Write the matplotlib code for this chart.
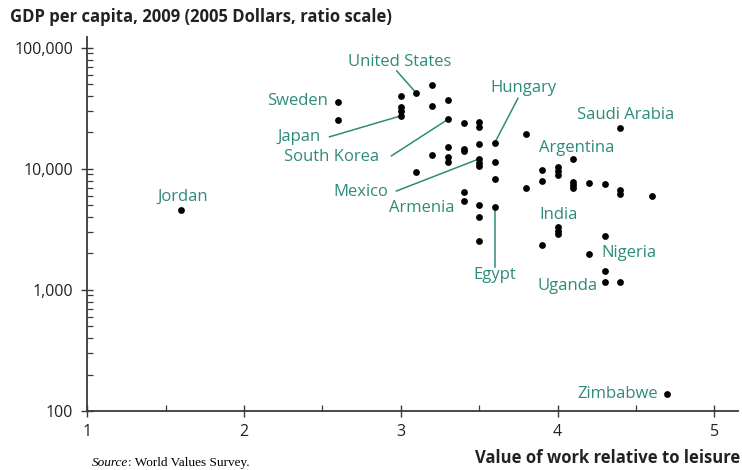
#!/usr/bin/env python

# Import plotting tools:
import matplotlib
matplotlib.use("Agg")
import matplotlib.pyplot as plt
from matplotlib.ticker import FixedLocator, LogLocator, NullFormatter

# Data: value of work relative to leisure vs GDP per capita (2005 dollars)
work_value = [1.6, 2.6, 2.6, 3.0, 3.0, 3.0, 3.0, 3.1, 3.1, 3.2, 3.2, 3.2,
              3.3, 3.3, 3.3, 3.3, 3.3, 3.4, 3.4, 3.4, 3.4, 3.4, 3.5, 3.5,
              3.5, 3.5, 3.5, 3.5, 3.5, 3.5, 3.5, 3.6, 3.6, 3.6, 3.6, 3.8,
              3.8, 3.9, 3.9, 3.9, 4.0, 4.0, 4.0, 4.0, 4.0, 4.0, 4.1, 4.1,
              4.1, 4.1, 4.2, 4.2, 4.3, 4.3, 4.3, 4.3, 4.4, 4.4, 4.4, 4.4,
              4.6, 4.7]
gdp = [4600, 36000, 25300, 40200, 32600, 30200, 27400, 42100, 9500, 49300, 33000, 13000,
       36700, 25600, 15100, 12600, 11400, 24000, 14700, 14000, 6440, 5410, 24500, 22200,
       16000, 12100, 11200, 10500, 4990, 3990, 2530, 16500, 11400, 8300, 4830, 19500,
       6950, 9800, 7940, 2330, 10400, 9550, 8850, 3300, 3060, 2870, 12000, 7790,
       7310, 7000, 7700, 1990, 7550, 2780, 1420, 1160, 21600, 6650, 6170, 1160,
       5930, 137]

# Country labels: name, label position (x, y), index of the dot a leader line points to (None = no line)
label_names = ["United States", "Sweden", "Japan", "South Korea", "Mexico", "Armenia", "Egypt",
               "Hungary", "Argentina", "Saudi Arabia", "India", "Nigeria", "Uganda", "Zimbabwe", "Jordan"]
label_x = [2.993, 2.533, 2.348, 2.557, 2.744, 3.135, 3.600, 3.782, 4.121, 4.435, 4.004, 4.457, 4.063, 4.383, 1.609]
label_y = [76400, 36300, 18400, 12560, 6440, 4780, 1340, 46500, 14900, 27800, 4130, 2010, 1086, 137, 5850]
label_ha = ["center", "right", "center", "center", "center", "center", "center",
            "center", "center", "center", "center", "center", "center", "center", "center"]
line_target = [7, None, 6, 13, 25, None, 34, 31, None, None, None, None, None, None, None]
line_start_x = [2.974, None, 2.546, 2.940, 2.972, None, 3.600, 3.747, None, None, None, None, None, None, None]
line_start_y = [64400, None, 18400, 12800, 6560, None, 1540, 38200, None, None, None, None, None, None, None]

y_ticks = [100, 1000, 10000, 100000]
y_tick_labels = ["100", "1,000", "10,000", "100,000"]
x_ticks = [1, 2, 3, 4, 5]

teal = "#2e8b7b"
plt.rcParams["font.family"] = ["Open Sans", "DejaVu Sans"]

# Set up figure and axes to match the reference layout:
fig = plt.figure(figsize=(7.42, 4.70), dpi=100)
ax = fig.add_axes([0.1175, 0.1255, 0.877, 0.796])

# Scatter of all countries:
ax.scatter(work_value, gdp, s=24, color="black", zorder=3, linewidths=0)

# Log (ratio) scale on y:
ax.set_yscale("log")
ax.set_xlim(1, 5.15)
ax.set_ylim(100, 123000)

# Spines:
for side in ["top", "right"]:
    ax.spines[side].set_visible(False)
for side in ["left", "bottom"]:
    ax.spines[side].set_color("#3a3a3a")
    ax.spines[side].set_linewidth(1.3)

# Ticks:
ax.yaxis.set_major_locator(FixedLocator(y_ticks))
ax.set_yticklabels(y_tick_labels)
ax.yaxis.set_minor_locator(LogLocator(base=10, subs=[2, 3, 4, 5, 6, 7, 8, 9]))
ax.yaxis.set_minor_formatter(NullFormatter())
ax.set_xticks(x_ticks)
ax.set_xticks([1.5, 2.5, 3.5, 4.5], minor=True)
ax.tick_params(which="major", direction="inout", length=8, width=1, color="#3a3a3a",
               labelsize=11.5, labelcolor="#222222")
ax.tick_params(which="minor", direction="in", length=4.5, width=0.9, color="#3a3a3a")
ax.tick_params(axis="x", which="major", pad=5)
ax.tick_params(axis="y", which="major", pad=6)

# Country labels and leader lines:
for i, name in enumerate(label_names):
    ax.text(label_x[i], label_y[i], name, color=teal, fontsize=12, ha=label_ha[i], va="center")
    if line_target[i] is not None:
        t = line_target[i]
        ax.plot([line_start_x[i], work_value[t]], [line_start_y[i], gdp[t]],
                color=teal, linewidth=1.1, zorder=2)

# Title, axis label and source note:
fig.text(0.013, 0.963, "GDP per capita, 2009 (2005 Dollars, ratio scale)",
         fontsize=12, fontweight="bold", color="#222222", ha="left", va="center")
fig.text(0.997, 0.025, "Value of work relative to leisure",
         fontsize=12, fontweight="bold", color="#222222", ha="right", va="center")
fig.text(0.124, 0.015, "Source", fontsize=9.5, style="italic",
         family="Liberation Serif", ha="left", va="center")
fig.text(0.172, 0.015, ": World Values Survey.", fontsize=9.5,
         family="Liberation Serif", ha="left", va="center")

plt.savefig("out.png", dpi=100)
